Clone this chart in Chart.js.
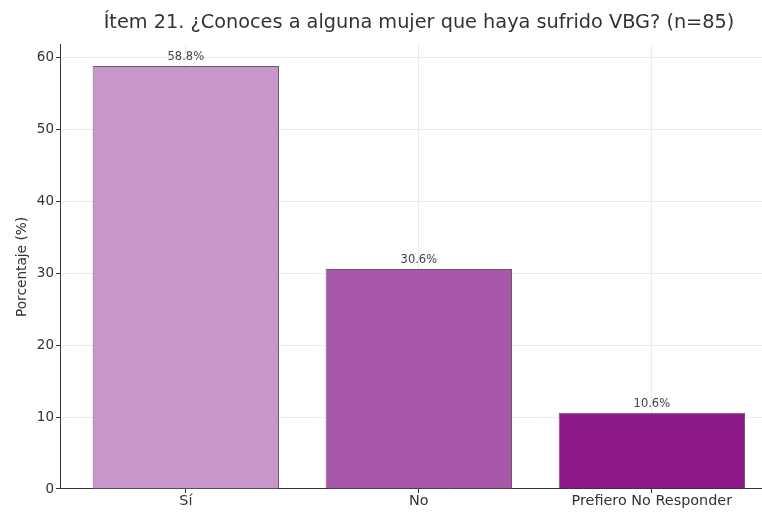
<!DOCTYPE html>
<html>
<head>
<meta charset="utf-8">
<script src="https://cdn.jsdelivr.net/npm/chart.js@4"></script>
<style>
  html, body { margin: 0; padding: 0; overflow: hidden; background: #fff; }
  #wrap { width: 762px; height: 513px; overflow: hidden; position: relative; }
  #box { width: 838px; height: 513px; }
</style>
</head>
<body>
<div id="wrap"><div id="box"><canvas id="vbgChart"></canvas></div></div>
<script>
const categories = ['Sí', 'No', 'Prefiero No Responder'];
const percentages = [58.8, 30.6, 10.6];
const barColors = ['#c896ca', '#a858a8', '#8c1a8a'];
const yTicks = [0, 10, 20, 30, 40, 50, 60];

// etiquetas de porcentaje encima de cada barra
const valueLabels = {
  id: 'valueLabels',
  afterDatasetsDraw(chart) {
    const ctx = chart.ctx;
    const meta = chart.getDatasetMeta(0);
    ctx.save();
    ctx.font = '11.5px "DejaVu Sans", sans-serif';
    ctx.fillStyle = '#444';
    ctx.textAlign = 'center';
    ctx.textBaseline = 'bottom';
    meta.data.forEach((bar, i) => {
      ctx.fillText(percentages[i].toFixed(1) + '%', bar.x, bar.y - 3);
    });
    ctx.restore();
  }
};

const ctx = document.getElementById('vbgChart').getContext('2d');
new Chart(ctx, {
  type: 'bar',
  data: {
    datasets: [{
      label: 'Porcentaje',
      data: percentages.map((v, i) => ({ x: i, y: v })),
      backgroundColor: barColors,
      borderColor: '#6a5a6a',
      borderWidth: 1,
      barPercentage: 0.8,
      categoryPercentage: 1
    }]
  },
  options: {
    responsive: true,
    maintainAspectRatio: false,
    animation: false,
    plugins: {
      legend: { display: false },
      tooltip: { enabled: false },
      title: {
        display: true,
        text: 'Ítem 21. ¿Conoces a alguna mujer que haya sufrido VBG? (n=85)',
        color: '#333',
        font: { family: '"DejaVu Sans", sans-serif', size: 19.3, weight: 'normal' },
        padding: { top: 11, bottom: 10.8 }
      }
    },
    scales: {
      x: {
        type: 'linear',
        offset: false,
        min: -0.54,
        max: 2.799,
        afterFit(scale) { scale.height = 24; },
        afterBuildTicks(scale) { scale.ticks = categories.map((c, i) => ({ value: i })); },
        ticks: {
          callback: (v) => categories[v] ?? '',
          color: '#333',
          font: { family: '"DejaVu Sans", sans-serif', size: 14.4 },
          padding: 0,
          maxRotation: 0,
          autoSkip: false
        },
        grid: { offset: false, color: '#ebebeb', tickColor: '#333', tickLength: 4 },
        border: { display: true, color: '#333', width: 1 }
      },
      y: {
        min: 0,
        max: 61.74,
        afterFit(scale) { scale.width = 60; },
        afterBuildTicks(scale) { scale.ticks = yTicks.map(v => ({ value: v })); },
        ticks: {
          color: '#333',
          font: { family: '"DejaVu Sans", sans-serif', size: 13.5 },
          padding: 2
        },
        grid: { color: '#ebebeb', tickColor: '#333', tickLength: 4 },
        border: { display: true, color: '#333', width: 1 },
        title: {
          display: true,
          text: 'Porcentaje (%)',
          color: '#333',
          font: { family: '"DejaVu Sans", sans-serif', size: 13.7 },
          padding: { top: 14, bottom: 0 }
        }
      }
    }
  },
  plugins: [valueLabels]
});
</script>
</body>
</html>
